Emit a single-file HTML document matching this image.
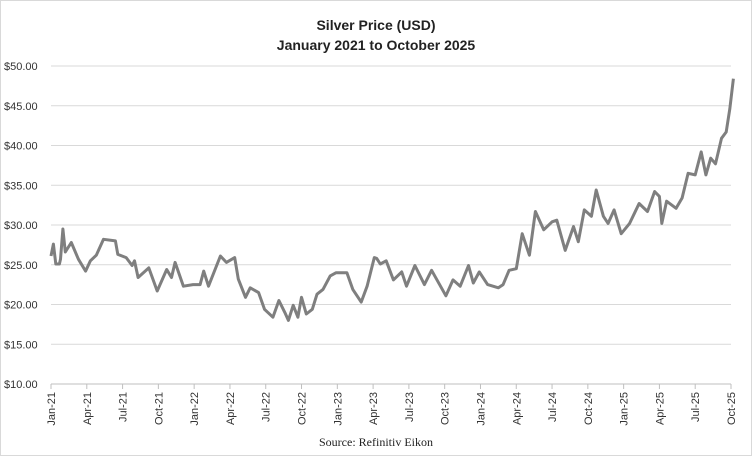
<!DOCTYPE html>
<html><head><meta charset="utf-8">
<style>
html,body{margin:0;padding:0;background:#fff;}
svg{display:block;font-family:"Liberation Sans",sans-serif;}
</style></head>
<body>
<svg id="chart" width="752" height="456">
<rect x="0.5" y="0.5" width="751" height="455" fill="#fff" stroke="#d9d9d9"/>
<text x="376" y="30" text-anchor="middle" font-size="14" font-weight="bold" fill="#222">Silver Price (USD)</text>
<text x="376" y="50" text-anchor="middle" font-size="14" font-weight="bold" fill="#222">January 2021 to October 2025</text>
<g id="grid"></g><g id="yticks"></g><g id="xticks"></g><g id="series"></g>
<text x="376" y="446" text-anchor="middle" font-size="12" font-family="Liberation Serif,serif" fill="#222">Source: Refinitiv Eikon</text>
</svg>
<script>
const yTicks=[10,15,20,25,30,35,40,45,50];
const xLabels=["Jan-21","Apr-21","Jul-21","Oct-21","Jan-22","Apr-22","Jul-22","Oct-22","Jan-23","Apr-23","Jul-23","Oct-23","Jan-24","Apr-24","Jul-24","Oct-24","Jan-25","Apr-25","Jul-25","Oct-25"];
const months=[0,0.2,0.4,0.7,0.8,1.0,1.2,1.7,2.3,2.9,3.3,3.8,4.4,5.4,5.6,6.3,6.8,7.0,7.3,8.2,8.9,9.7,10.1,10.4,11.1,11.9,12.5,12.8,13.2,14.2,14.7,15.4,15.7,16.3,16.7,17.4,17.9,18.6,19.1,19.6,19.9,20.3,20.7,21.0,21.4,21.9,22.3,22.8,23.4,23.9,24.8,25.3,26.0,26.5,27.1,27.3,27.6,28.1,28.7,29.4,29.8,30.5,31.3,31.9,33.1,33.7,34.3,35.0,35.4,35.9,36.6,37.5,37.9,38.4,39.0,39.5,40.1,40.6,41.3,42.0,42.4,43.1,43.8,44.2,44.7,45.3,45.7,46.3,46.7,47.2,47.8,48.5,49.3,50.0,50.6,51.0,51.2,51.6,52.4,52.9,53.4,54.0,54.5,54.9,55.3,55.7,56.2,56.6,56.9,57.2];
const prices=[26.1,27.6,25.1,25.1,25.7,29.5,26.6,27.8,25.7,24.2,25.5,26.2,28.2,28.0,26.3,25.9,24.9,25.5,23.4,24.6,21.7,24.4,23.4,25.3,22.3,22.5,22.5,24.2,22.3,26.1,25.3,25.9,23.2,20.9,22.1,21.5,19.4,18.4,20.5,19.0,18.0,19.9,18.4,20.9,18.8,19.4,21.3,21.9,23.6,24.0,24.0,21.9,20.3,22.3,25.9,25.8,25.1,25.5,23.1,24.1,22.3,24.9,22.5,24.3,21.1,23.1,22.3,24.9,22.7,24.1,22.5,22.1,22.5,24.3,24.5,28.9,26.2,31.7,29.4,30.4,30.6,26.8,29.8,27.9,31.9,31.1,34.4,31.1,30.2,31.9,28.9,30.2,32.7,31.7,34.2,33.6,30.2,33.0,32.1,33.4,36.5,36.3,39.2,36.3,38.4,37.7,40.9,41.7,44.6,48.4];
const NS="http://www.w3.org/2000/svg";
const x0=51,x1=731,yTop=66,yBot=384;
const xs=m=>x0+(x1-x0)*m/((xLabels.length-1)*3);
const ys=v=>yBot-(yBot-yTop)*(v-10)/40;
const grid=document.getElementById('grid'),yt=document.getElementById('yticks'),xt=document.getElementById('xticks'),se=document.getElementById('series');
yTicks.forEach(v=>{
  const l=document.createElementNS(NS,'line');
  l.setAttribute('x1',x0);l.setAttribute('x2',x1);l.setAttribute('y1',ys(v));l.setAttribute('y2',ys(v));
  l.setAttribute('stroke',v===10?'#bfbfbf':'#d9d9d9');l.setAttribute('stroke-width','1');
  
  
  grid.appendChild(l);
  const t=document.createElementNS(NS,'text');
  t.setAttribute('x',4);t.setAttribute('y',ys(v)+4);t.setAttribute('font-size','11');t.setAttribute('fill','#333');
  t.textContent='$'+v.toFixed(2);
  
  
  yt.appendChild(t);
});
xLabels.forEach((s,i)=>{
  const x=xs(i*3);
  const tk=document.createElementNS(NS,'line');
  tk.setAttribute('x1',x);tk.setAttribute('x2',x);tk.setAttribute('y1',yBot);tk.setAttribute('y2',yBot+5);tk.setAttribute('stroke','#bfbfbf');
  
  
  xt.appendChild(tk);
  const t=document.createElementNS(NS,'text');
  t.setAttribute('transform','translate('+(x+4)+','+(yBot+8)+') rotate(-90)');
  t.setAttribute('text-anchor','end');t.setAttribute('font-size','11');t.setAttribute('fill','#333');
  t.textContent=s;
  
  
  xt.appendChild(t);
});
const p=document.createElementNS(NS,'polyline');
p.setAttribute('points',months.map((m,i)=>xs(m).toFixed(1)+','+ys(prices[i]).toFixed(1)).join(' '));
p.setAttribute('fill','none');p.setAttribute('stroke','#7f7f7f');p.setAttribute('stroke-width','3');p.setAttribute('stroke-linejoin','round');


se.appendChild(p);
</script>
</body></html>
